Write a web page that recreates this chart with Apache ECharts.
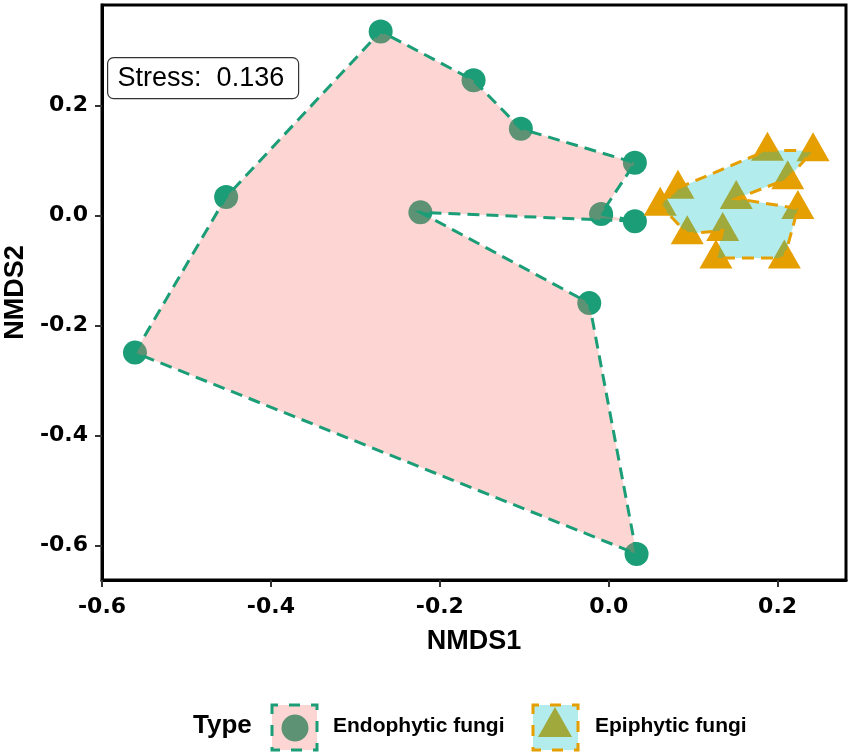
<!DOCTYPE html>
<html lang="en">
<head>
    <meta charset="utf-8">
    <title>NMDS</title>
    <script src="https://cdn.jsdelivr.net/npm/echarts@6/dist/echarts.min.js"></script>
    <style>
        html, body { margin: 0; padding: 0; background: #fff; }
        #main { width: 851px; height: 755px; }
    </style>
</head>
<body>
<div id="main"></div>
<script>
    // endophytic fungi (circles)
    var endoX = [-0.270, -0.160, -0.104, 0.031, -0.453, -0.223, -0.009, 0.031, -0.023, -0.561, 0.033];
    var endoY = [0.335, 0.246, 0.158, 0.096, 0.034, 0.006, 0.003, -0.010, -0.159, -0.249, -0.615];
    var endoPath = [9, 4, 0, 1, 2, 3, 6, 7, 5, 8, 10];

    // epiphytic fungi (triangles)
    var epiX = [0.188, 0.242, 0.212, 0.082, 0.061, 0.151, 0.224, 0.093, 0.135, 0.127, 0.208];
    var epiY = [0.119, 0.118, 0.067, 0.050, 0.019, 0.031, 0.013, -0.033, -0.027, -0.077, -0.077];
    var epiPath = [3, 0, 1, 2, 5, 6, 10, 9, 8, 7, 4];

    var ticks = [-0.6, -0.4, -0.2, 0, 0.2];
    var stress = 'Stress:  0.136';

    var green = '#1b9e77', orange = '#e69f00';
    var pinkFill = 'rgba(248,118,109,0.3)', cyanFill = 'rgba(0,191,196,0.3)';

    function pairs(xs, ys) {
        return xs.map(function (x, i) { return [x, ys[i]]; });
    }

    var hulls = [
        {pts: pairs(endoX, endoY), path: endoPath, fill: pinkFill, stroke: green},
        {pts: pairs(epiX, epiY), path: epiPath, fill: cyanFill, stroke: orange}
    ];

    var tickFont = {color: '#000', fontFamily: 'DejaVu Sans', fontWeight: 'bold', fontSize: 22};
    var titleFont = {color: '#000', fontFamily: 'Liberation Sans', fontWeight: 'bold', fontSize: 27};

    var chart = echarts.init(document.getElementById('main'));
    chart.setOption({
        animation: false,
        grid: {
            left: 102, right: 5, top: 5, bottom: 175,
            outerBoundsMode: 'none', containLabel: false,
            show: true, borderColor: '#000', borderWidth: 3
        },
        xAxis: {
            type: 'value', min: -0.6, max: 0.281,
            name: 'NMDS1', nameLocation: 'middle', nameGap: 48,
            nameTextStyle: titleFont,
            axisLine: {show: true, onZero: false, lineStyle: {color: '#000', width: 3}},
            axisTick: {show: true, length: 7, customValues: ticks, lineStyle: {color: '#333', width: 2}},
            axisLabel: Object.assign({margin: 16, customValues: ticks,
                formatter: function (v) { return v.toFixed(1); }}, tickFont),
            splitLine: {show: false}
        },
        yAxis: {
            type: 'value', min: -0.6624, max: 0.383,
            name: 'NMDS2', nameLocation: 'middle', nameGap: 72,
            nameTextStyle: titleFont,
            axisLine: {show: true, onZero: false, lineStyle: {color: '#000', width: 3}},
            axisTick: {show: true, length: 7, customValues: ticks, lineStyle: {color: '#333', width: 2}},
            axisLabel: Object.assign({margin: 14, customValues: ticks,
                formatter: function (v) { return v.toFixed(1); }}, tickFont),
            splitLine: {show: false}
        },
        series: [
            {
                name: 'Endophytic fungi', type: 'scatter', z: 2,
                symbol: 'circle', symbolSize: 24,
                itemStyle: {color: green, opacity: 1},
                data: pairs(endoX, endoY)
            },
            {
                name: 'Epiphytic fungi', type: 'scatter', z: 2,
                symbol: 'triangle', symbolSize: [33, 29], symbolOffset: [0, -4],
                itemStyle: {color: orange, opacity: 1},
                data: pairs(epiX, epiY)
            },
            {
                type: 'custom', z: 3, silent: true,
                data: hulls.map(function (h) { return h.pts[0]; }),
                renderItem: function (params, api) {
                    var h = hulls[params.dataIndex];
                    var points = h.path.map(function (k) { return api.coord(h.pts[k]); });
                    return {
                        type: 'polygon',
                        shape: {points: points},
                        style: {fill: h.fill, stroke: h.stroke, lineWidth: 3, lineDash: [12, 7]}
                    };
                }
            }
        ],
        graphic: [
            {
                type: 'group', left: 107, top: 57,
                children: [
                    {type: 'rect', shape: {x: 0, y: 0, width: 191, height: 41, r: 6},
                        style: {fill: '#fff', stroke: '#333', lineWidth: 1.2}},
                    {type: 'text', x: 10, y: 21,
                        style: {text: stress, fill: '#000', font: '27px "Liberation Sans"', textVerticalAlign: 'middle'}}
                ]
            },
            {type: 'text', left: 193, top: 713,
                style: {text: 'Type', fill: '#000', font: 'bold 26px "Liberation Sans"'}},
            {type: 'circle', shape: {cx: 295, cy: 728, r: 13.5}, style: {fill: green}},
            {type: 'rect', shape: {x: 272, y: 705, width: 45, height: 45},
                style: {fill: pinkFill, stroke: green, lineWidth: 3, lineDash: [11, 11], lineDashOffset: 5}},
            {type: 'text', left: 333, top: 716,
                style: {text: 'Endophytic fungi', fill: '#000', font: 'bold 21px "Liberation Sans"'}},
            {type: 'polygon', shape: {points: [[555, 707], [572, 737], [538, 737]]}, style: {fill: orange}},
            {type: 'rect', shape: {x: 533, y: 705, width: 45, height: 45},
                style: {fill: cyanFill, stroke: orange, lineWidth: 3, lineDash: [11, 11], lineDashOffset: 5}},
            {type: 'text', left: 595, top: 716,
                style: {text: 'Epiphytic fungi', fill: '#000', font: 'bold 21px "Liberation Sans"'}}
        ]
    });
</script>
</body>
</html>
